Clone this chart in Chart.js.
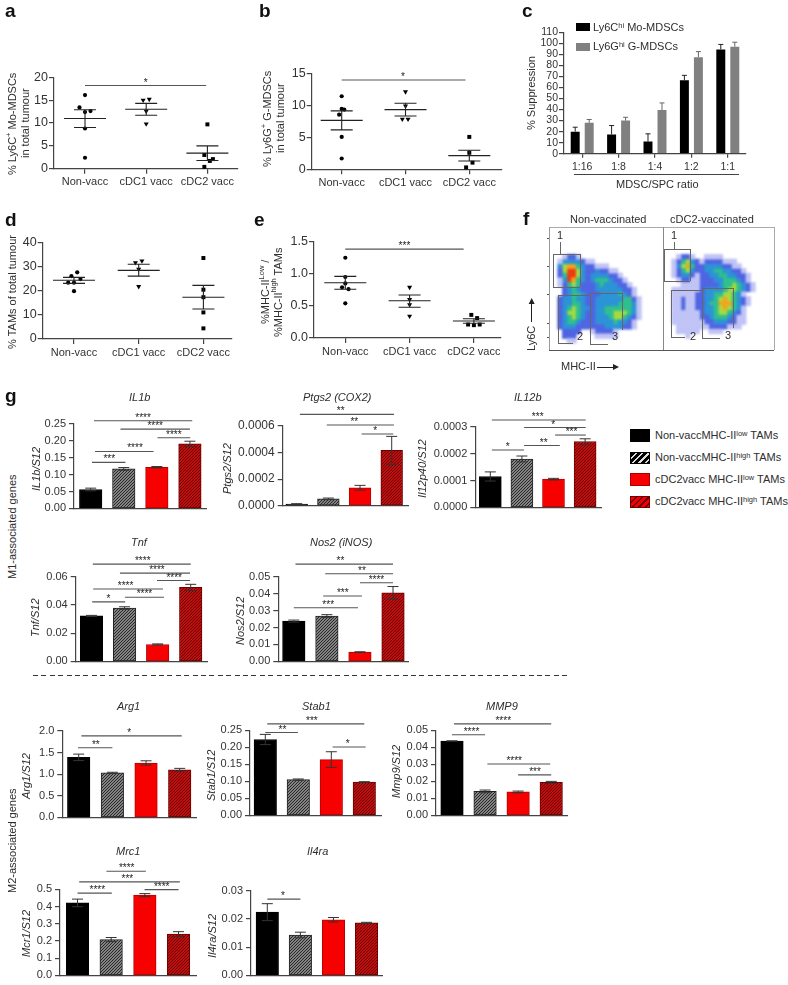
<!DOCTYPE html>
<html><head><meta charset="utf-8">
<script src="https://cdn.jsdelivr.net/npm/chart.js@4"></script>
<style>
html,body{margin:0;padding:0;background:#fff}
#wrap{position:relative;width:788px;height:985px;overflow:hidden;background:#fff;font-family:"Liberation Sans",Arial,sans-serif;color:#2e2e2e}
#wrap canvas{position:absolute;filter:blur(.35px)}
.t{position:absolute;white-space:nowrap;text-align:center;line-height:1.15}
.v{writing-mode:vertical-rl;transform:rotate(180deg)}
sup{font-size:.68em;vertical-align:.45em;line-height:0}
.b{position:absolute}
</style></head><body><div id="wrap"></div>
<script>
/* ---------- DATA ---------- */
const vaccGroups=['Non-vacc','cDC1 vacc','cDC2 vacc'];
const tamGroups=['Non-vaccMHC-II low TAMs','Non-vaccMHC-II high TAMs','cDC2vacc MHC-II low TAMs','cDC2vacc MHC-II high TAMs'];

const aTicks=['0','5','10','15','20'];
const aNonVacc=[16.1,13.4,12.4,12.6,8.8,2.4];
const aCdc1=[15,15.2,12.6,9.8];
const aCdc2=[9.7,3,1.7,2.1,0.4];
const aMean=[11,13,3.4], aSemLow=[9,11.7,1.8], aSemHigh=[12.9,14.3,5];
const aSig=[[0,1.98,18.2,'*',0.99]];

const bTicks=['0','5','10','15'];
const bNonVacc=[11.5,9.5,9.4,8.6,5.1,1.7];
const bCdc1=[12.2,9.96,7.9,7.9];
const bCdc2=[5.1,2.6,1.05,0.3];
const bMean=[7.7,9.4,2.15], bSemLow=[6.2,8.4,1.3], bSemHigh=[9.2,10.4,3];
const bSig=[[0,1.94,14.05,'*',0.96]];

const dTicks=['0','10','20','30','40'];
const dNonVacc=[27.6,26,24.8,23.3,23.3,19.8];
const dCdc1=[31.6,32.3,28.9,21.7];
const dCdc2=[33.5,20.4,17.3,11,4.4];
const dMean=[24.3,28.4,17.3], dSemLow=[23,26,12.4], dSemHigh=[25.5,30.9,22.2];

const eTicks=['0.0','0.5','1.0','1.5'];
const eNonVacc=[1.25,0.95,0.85,0.79,0.76,0.54];
const eCdc1=[0.79,0.6,0.52,0.34];
const eCdc2=[0.36,0.31,0.21,0.2,0.21];
const eMean=[0.86,0.58,0.265], eSemLow=[0.76,0.48,0.23], eSemHigh=[0.96,0.67,0.3];
const eSig=[[0,1.84,1.385,'***',0.92]];

const cRatios=['1:16','1:8','1:4','1:2','1:1'];
const cTicks=['0','10','20','30','40','50','60','70','80','90','100','110'];
const cMo=[20,17.5,11,66.5,94.5], cMoErr=[4,8,7,4.5,4.5];
const cG=[28,30,39.5,87.5,97], cGErr=[3,3,6.5,5,4];

const il1bTicks=['0.00','0.05','0.10','0.15','0.20','0.25'];
const il1bValues=[0.056,0.117,0.122,0.191], il1bErr=[0.004,0.004,0.002,0.008];
const il1bSig=[[0.1,3.07,0.2595,'****'],[0.9,3,0.2348,'****'],[2.02,3.01,0.2093,'****'],[0.13,1.9,0.1686,'****',1.34],[0.04,1.05,0.1364,'***',0.56]];

const ptgs2Ticks=['0.0000','0.0002','0.0004','0.0006'];
const ptgs2Values=[0.000013,0.000052,0.000135,0.000415], ptgs2Err=[0.000003,0.000006,0.000018,0.000105];
const ptgs2Sig=[[0.1,3.07,0.000685,'**',1.39],[0.95,3.07,0.000605,'**',1.82],[2.05,3.05,0.000538,'*',2.48]];

const il12bTicks=['0.0000','0.0001','0.0002','0.0003'];
const il12bValues=[0.000115,0.00018,0.000105,0.000245], il12bErr=[0.000017,0.000011,0.000003,0.00001];
const il12bSig=[[0.05,3.02,0.000325,'***',1.5],[1.07,3.02,0.000297,'*',1.99],[2.05,3.02,0.000269,'***',2.57],[1.07,2.2,0.00023,'**',1.69],[0.05,1.07,0.0002135,'*',0.55]];

const tnfTicks=['0.00','0.02','0.04','0.06'];
const tnfValues=[0.0322,0.0378,0.012,0.0524], tnfErr=[0.0004,0.0009,0.0004,0.0022];
const tnfSig=[[0.04,3,0.0689,'****',1.55],[0.86,2.98,0.0625,'****',1.98],[1.98,2.98,0.0573,'****',2.5],[0.05,2.16,0.0513,'****',1.03],[1.01,2.19,0.0454,'****',1.6],[0.02,1.02,0.0422,'*',0.51]];

const nos2Ticks=['0.00','0.01','0.02','0.03','0.04','0.05'];
const nos2Values=[0.0238,0.0268,0.0055,0.0405], nos2Err=[0.0006,0.0008,0.0002,0.0037];
const nos2Sig=[[0.05,3,0.0574,'**',1.41],[0.95,3,0.0517,'**',2.06],[2,3,0.0464,'****',2.5],[0.89,2.06,0.0386,'***',1.48],[0,1.94,0.0317,'***',1.04]];

const arg1Ticks=['0.0','0.5','1.0','1.5','2.0'];
const arg1Values=[1.39,1.03,1.26,1.1], arg1Err=[0.075,0.015,0.05,0.035];
const arg1Sig=[[0.08,3.06,1.888,'*',1.5],[-0.02,1,1.613,'**',0.51]];

const stab1Ticks=['0.00','0.05','0.10','0.15','0.20','0.25'];
const stab1Values=[0.223,0.105,0.164,0.098], stab1Err=[0.015,0.002,0.023,0.001];
const stab1Sig=[[0.06,3,0.269,'***',1.41],[0,0.99,0.2434,'**',0.52],[2.04,3.04,0.201,'*',2.5]];

const mmp9Ticks=['0.00','0.01','0.02','0.03','0.04','0.05'];
const mmp9Values=[0.0437,0.0141,0.0138,0.0194], mmp9Err=[0.0001,0.0008,0.0005,0.0006];
const mmp9Sig=[[0.06,3,0.0538,'****',1.55],[0,1,0.0474,'****',0.59],[1.07,2.97,0.0302,'****',1.88],[2,3,0.0238,'***',2.51]];

const mrc1Ticks=['0.0','0.1','0.2','0.3','0.4','0.5'];
const mrc1Values=[0.421,0.208,0.466,0.24], mrc1Err=[0.022,0.012,0.009,0.014];
const mrc1Sig=[[0.86,2.03,0.605,'****',1.46],[0.05,3.04,0.543,'***',1.48],[0,1.02,0.478,'****',0.59],[1.99,3,0.498,'****',2.5]];

const il4raTicks=['0.00','0.01','0.02','0.03'];
const il4raValues=[0.0224,0.0143,0.0197,0.0186], il4raErr=[0.003,0.001,0.0008,0.0002];
const il4raSig=[[0,1,0.027,'*',0.47]];

/* flow plots: density level per cell, read by eye (0 empty ... 7 peak) */
const nonVaccDensity=["","","","","",
"00122100000000000000000","01333321100000000000000","03566432211100000000000","02577532232211000000000",
"02477532333322100000000","01376432344432210000000","01245422234333221000000","00234322233333322100000",
"00234432223333432100000","02334332233333344210000","02334432233333444310000","02345433233444444310000",
"02355432233445554310000","02345432233345543210000","02344322233334332100000","02333222222333322100000",
"00222200122221000000000","00222000011111000000000","00011000000000000000000"];
const cdc2Density=["","","","","",
"00122100111100000000000","01245321222211100000000","01356422333322110000000","01245322334433221000000",
"01233212233443322100000","00122112223344432100000","00011112222344543210000","01111112333345543210000",
"01111122334455431000000","01121122334565432100000","01121122344666432100000","01121122334565431000000",
"01111112334554321000000","01111112234443211000000","01111111223332211000000","00111111122221110000000",
"00111110011100000000000","00001000000000000000000"];

/* ---------- STYLE / HELPERS ---------- */
const wrap=document.getElementById('wrap');
const INK='#333', AX='#444', FONT='"Liberation Sans",Arial,sans-serif';
function label(x,y,html,o={}){
  const d=document.createElement('div');d.className='t'+(o.rot?' v':'');d.innerHTML=html;
  d.style.fontSize=(o.size||11)+'px';
  if(o.italic)d.style.fontStyle='italic';
  if(o.bold)d.style.fontWeight='bold';
  if(o.color)d.style.color=o.color;
  wrap.appendChild(d);
  const r=d.getBoundingClientRect();
  const w=Math.ceil(r.width),h=Math.ceil(r.height);
  if(o.rot){d.style.width=w+'px';d.style.height=h+'px';if(!html.includes('<br>'))d.style.textAlign='left';}
  d.style.left=Math.round(o.left?x:x-w/2)+'px';
  d.style.top=Math.round(y-h/2)+'px';
  return d;
}
function box(x,y,w,h,bg){
  const d=document.createElement('div');d.className='b';
  d.style.cssText+=`left:${x}px;top:${y}px;width:${w}px;height:${h}px;background:${bg}`;
  wrap.appendChild(d);return d;
}
function hatch(bg,fg,size,lw){
  const c=document.createElement('canvas');c.width=c.height=size;
  const g=c.getContext('2d');g.fillStyle=bg;g.fillRect(0,0,size,size);
  g.strokeStyle=fg;g.lineWidth=lw;
  [[-size,size,size,-size],[0,size,size,0],[0,2*size,2*size,0]].forEach(p=>{g.beginPath();g.moveTo(p[0],p[1]);g.lineTo(p[2],p[3]);g.stroke();});
  return g.createPattern(c,'repeat');
}
const barFills=['#000',hatch('#aaa','#222',3,1.1),'#f60000',hatch('#e01515','#6a0000',3,1.1)];
const barEdges=['#000','#222','#b80000','#700000'];

function frame(L,R,yTop,y0,bottomH,leftH=52,topH=46){
  const left=Math.floor(L-leftH), top=Math.floor(yTop-topH);
  const right=Math.ceil(R+10), bottom=Math.ceil(y0+bottomH);
  const c=document.createElement('canvas');
  c.width=right-left;c.height=bottom-top;
  c.style.left=left+'px';c.style.top=top+'px';
  wrap.appendChild(c);
  return {c,padL:L-left,padT:yTop-top,padR:right-R,padB:bottom-y0};
}
function yAxis(f,ticks,fontSize,pad){
  const vals=ticks.map(Number);
  return {min:vals[0],max:vals[vals.length-1],position:'left',
    afterFit:s=>{s.width=f.padL;},
    afterBuildTicks:s=>{s.ticks=vals.map(v=>({value:v}));},
    border:{color:AX,width:1.2},
    grid:{drawOnChartArea:false,color:AX,lineWidth:1.2,tickLength:5},
    ticks:{color:INK,padding:pad,font:{family:FONT,size:fontSize},autoSkip:false,
      callback:(v,i)=>ticks[i]}};
}
function sigPlugin(rows){
  return {id:'sig',afterDatasetsDraw(ch){
    const g=ch.ctx,x=ch.scales.x,y=ch.scales.y;
    g.save();g.strokeStyle='#555';g.lineWidth=1.1;g.fillStyle='#222';
    g.textAlign='center';g.textBaseline='alphabetic';g.font='10px '+FONT;
    rows.forEach(r=>{
      const x1=x.getPixelForValue(r[0]),x2=x.getPixelForValue(r[1]),py=y.getPixelForValue(r[2]);
      g.beginPath();g.moveTo(x1,py);g.lineTo(x2,py);g.stroke();
      const sx=r[4]===undefined?(x1+x2)/2:x.getPixelForValue(r[4]);
      g.fillText(r[3],sx,py);
    });
    g.restore();}};
}
function errPlugin(series){
  return {id:'err',afterDatasetsDraw(ch){
    const g=ch.ctx,y=ch.scales.y;
    g.save();g.lineWidth=1;
    series.forEach(s=>{
      ch.getDatasetMeta(s.ds).data.forEach((el,i)=>{
        const v=s.values[i],e=s.err[i],hi=y.getPixelForValue(v+e),lo=y.getPixelForValue(s.up?v:v-e);
        g.strokeStyle=s.color||'#333';
        g.beginPath();g.moveTo(el.x,lo);g.lineTo(el.x,hi);
        g.moveTo(el.x-s.cap,hi);g.lineTo(el.x+s.cap,hi);
        if(!s.up){g.moveTo(el.x-s.cap,lo);g.lineTo(el.x+s.cap,lo);}
        g.stroke();
      });
    });
    g.restore();}};
}
function baseOptions(f){
  return {responsive:false,animation:false,events:[],
    layout:{padding:{left:0,top:f.padT,right:f.padR,bottom:0}},
    plugins:{legend:{display:false},tooltip:{enabled:false}}};
}

/* gene-expression bar panel: x units are bar indices */
function barPanel(p){
  const f=frame(p.L,p.R,p.yTop,p.y0,6);
  const o=baseOptions(f);
  o.scales={
    x:{type:'linear',offset:false,min:(p.L-p.cx0)/p.dx,max:(p.R-p.cx0)/p.dx,
       afterFit:s=>{s.height=f.padB;},border:{color:AX,width:1.2},
       grid:{display:false,offset:false},ticks:{display:false}},
    y:yAxis(f,p.ticks,p.fs||11,3)};
  new Chart(f.c,{type:'bar',
    data:{labels:tamGroups,datasets:[{label:p.name,
      data:p.values.map((v,i)=>({x:i,y:v})),
      backgroundColor:barFills,borderColor:barEdges,borderWidth:1,borderSkipped:false,
      barThickness:p.w||22.5}]},
    options:o,
    plugins:[errPlugin([{ds:0,values:p.values,err:p.err,cap:5.5}]),sigPlugin(p.sig)]});
}

/* dot-plot panel: x units are group indices, jitter is a small horizontal spread */
function dotPanel(p){
  const f=frame(p.L,p.R,p.yTop,p.y0,24);
  const o=baseOptions(f);
  o.scales={
    x:{type:'linear',min:(p.L-p.cx0)/p.dx,max:(p.R-p.cx0)/p.dx,
       afterFit:s=>{s.height=f.padB;},
       afterBuildTicks:s=>{s.ticks=vaccGroups.map((_,i)=>({value:i}));},
       border:{color:AX,width:1.2},
       grid:{drawOnChartArea:false,color:AX,lineWidth:1.2,tickLength:5},
       ticks:{color:INK,padding:2,maxRotation:0,autoSkip:false,font:{family:FONT,size:11},callback:(v,i)=>vaccGroups[i]}},
    y:yAxis(f,p.ticks,12.5,1)};
  const styles=[['circle',2.1,0],['triangle',2.9,180],['rect',2.8,0]];
  const mk=(vals,g)=>({label:vaccGroups[g],
    data:vals.map((v,i)=>({x:g+p.jitter[g][i],y:v})),
    showLine:false,clip:false,backgroundColor:'#000',borderWidth:0,
    pointStyle:styles[g][0],pointRadius:styles[g][1],pointRotation:styles[g][2]});
  new Chart(f.c,{type:'scatter',
    data:{datasets:p.groups.map(mk)},options:o,
    plugins:[{id:'mean',afterDatasetsDraw(ch){
      const g=ch.ctx,x=ch.scales.x,y=ch.scales.y;
      g.save();g.strokeStyle='#222';g.lineWidth=1.1;
      p.mean.forEach((m,i)=>{
        const cx=x.getPixelForValue(i),my=y.getPixelForValue(m),lo=y.getPixelForValue(p.low[i]),hi=y.getPixelForValue(p.high[i]);
        g.beginPath();
        g.moveTo(cx-21,my);g.lineTo(cx+21,my);
        g.moveTo(cx,lo);g.lineTo(cx,hi);
        g.moveTo(cx-11,lo);g.lineTo(cx+11,lo);
        g.moveTo(cx-11,hi);g.lineTo(cx+11,hi);
        g.stroke();
      });
      g.restore();}},sigPlugin(p.sig||[])]});
}

/* ---------- PANELS a,b,d,e ---------- */
dotPanel({L:54,R:238,yTop:77.3,y0:168.7,cx0:85,dx:61.2,ticks:aTicks,groups:[aNonVacc,aCdc1,aCdc2],
  jitter:[[0,-.09,0,.09,0,0],[-.05,.05,0,0],[0,-.05,.04,.09,-.05]],mean:aMean,low:aSemLow,high:aSemHigh,sig:aSig});
dotPanel({L:311.7,R:501.7,yTop:74,y0:169.3,cx0:341.7,dx:63.8,ticks:bTicks,groups:[bNonVacc,bCdc1,bCdc2],
  jitter:[[0,0,.04,-.04,0,0],[0,0,-.05,.04],[0,0,.05,-.05]],mean:bMean,low:bSemLow,high:bSemHigh,sig:bSig});
dotPanel({L:42.7,R:231.7,yTop:242.3,y0:339,cx0:74,dx:64.7,ticks:dTicks,groups:[dNonVacc,dCdc1,dCdc2],
  jitter:[[.05,-.04,.1,-.09,0,0],[-.05,.05,0,0],[0,0,0,0,0]],mean:dMean,low:dSemLow,high:dSemHigh});
dotPanel({L:314,R:500.3,yTop:241.7,y0:338,cx0:345.3,dx:64.3,ticks:eTicks,groups:[eNonVacc,eCdc1,eCdc2],
  jitter:[[0,0,0,-.05,.05,0],[0,0,0,0],[-.04,.05,-.09,0,.09]],mean:eMean,low:eSemLow,high:eSemHigh,sig:eSig});

/* ---------- PANEL c ---------- */
(function(){
  const L=564,R=746,yTop=32.3,y0=153.7;
  const f=frame(L,R,yTop,y0,20,52,20);
  const o=baseOptions(f);
  o.scales={
    x:{type:'category',afterFit:s=>{s.height=f.padB;},border:{color:AX,width:1.2},
       grid:{drawOnChartArea:false,color:AX,lineWidth:1.2,tickLength:4,offset:false},
       ticks:{color:INK,padding:3,font:{family:FONT,size:10.5},maxRotation:0,autoSkip:false}},
    y:yAxis(f,cTicks,10.5,1)};
  new Chart(f.c,{type:'bar',
    data:{labels:cRatios,datasets:[
      {label:'Ly6C hi Mo-MDSCs',data:cMo,backgroundColor:'#000',categoryPercentage:.77,barPercentage:.64},
      {label:'Ly6G hi G-MDSCs',data:cG,backgroundColor:'#808080',categoryPercentage:.77,barPercentage:.64}]},
    options:o,
    plugins:[errPlugin([{ds:0,values:cMo,err:cMoErr,cap:2.5,up:true,color:'#222'},{ds:1,values:cG,err:cGErr,cap:2.5,up:true,color:'#666'}])]});
})();
box(576,23,14,8,'#000');box(576,42.5,14,8,'#808080');
label(593,27,'Ly6C<sup>hi</sup> Mo-MDSCs',{left:1,size:11});
label(593,46.5,'Ly6G<sup>hi</sup> G-MDSCs',{left:1,size:11});
box(574,174,165,1,'#444');
label(657,184,'MDSC/SPC ratio');
label(531.7,92.7,'% Suppression',{rot:1});

/* ---------- PANEL g ---------- */
barPanel({name:'IL1b',L:74,R:206,yTop:424,y0:512,cx0:90.7,dx:33.07,ticks:il1bTicks,values:il1bValues,err:il1bErr,sig:il1bSig});
barPanel({name:'Ptgs2',L:282.7,R:408,yTop:425.7,y0:510,cx0:296.7,dx:31.67,w:21.7,fs:12,ticks:ptgs2Ticks,values:ptgs2Values,err:ptgs2Err,sig:ptgs2Sig});
barPanel({name:'IL12b',L:475.3,R:601,yTop:426.7,y0:511,cx0:490.3,dx:31.6,w:22,ticks:il12bTicks,values:il12bValues,err:il12bErr,sig:il12bSig});
barPanel({name:'Tnf',L:75.7,R:207.3,yTop:576.7,y0:664.3,cx0:91.5,dx:33.07,ticks:tnfTicks,values:tnfValues,err:tnfErr,sig:tnfSig});
barPanel({name:'Nos2',L:278.3,R:408,yTop:576.7,y0:664.3,cx0:293.8,dx:33.07,ticks:nos2Ticks,values:nos2Values,err:nos2Err,sig:nos2Sig});
barPanel({name:'Arg1',L:62.3,R:196,yTop:731,y0:820.7,cx0:78.7,dx:33.67,ticks:arg1Ticks,values:arg1Values,err:arg1Err,sig:arg1Sig});
barPanel({name:'Stab1',L:250,R:381,yTop:730.3,y0:818.7,cx0:265.3,dx:33,ticks:stab1Ticks,values:stab1Values,err:stab1Err,sig:stab1Sig});
barPanel({name:'MMP9',L:436,R:567.7,yTop:730.3,y0:818.7,cx0:452,dx:33.07,ticks:mmp9Ticks,values:mmp9Values,err:mmp9Err,sig:mmp9Sig});
barPanel({name:'Mrc1',L:60,R:196,yTop:889.3,y0:978.3,cx0:77.5,dx:33.67,ticks:mrc1Ticks,values:mrc1Values,err:mrc1Err,sig:mrc1Sig});
barPanel({name:'Il4ra',L:251,R:382.7,yTop:890.7,y0:978.3,cx0:267.3,dx:33.07,ticks:il4raTicks,values:il4raValues,err:il4raErr,sig:il4raSig});

[['IL1b',140,397.7],['Ptgs2 (COX2)',337,397.7],['IL12b',528,397.7],['Tnf',139,542.7],['Nos2 (iNOS)',341.7,542.7],
 ['Arg1',129,706.7],['Stab1',316,706.7],['MMP9',501.7,706],['Mrc1',128.7,851.7],['Il4ra',317.7,851.7]]
 .forEach(r=>label(r[1],r[2],r[0],{italic:1}));
[['IL1b/S12',36,468],['Ptgs2/S12',227.7,468],['Il12p40/S12',422.7,468],['Tnf/S12',35.7,617],['Nos2/S12',240.7,620],
 ['Arg1/S12',26.7,776],['Stab1/S12',211.7,775],['Mmp9/S12',396.7,771],['Mcr1/S12',26.7,933],['Il4ra/S12',212.7,935]]
 .forEach(r=>label(r[1],r[2],r[0],{italic:1,rot:1}));
label(12,526,'M1-associated genes',{rot:1});
label(12,840,'M2-associated genes',{rot:1});
box(33,675,535,1.3,'repeating-linear-gradient(90deg,#333 0 5px,transparent 5px 8.4px)');

/* g legend */
const legendSwatch=['#000','repeating-linear-gradient(135deg,#000 0 3px,#ddd 3px 4.5px)','#f60000','repeating-linear-gradient(135deg,#f00000 0 3px,#700000 3px 4.5px)'];
const legendEdge=['#000','#000','#a00','#700000'];
[['Non-vaccMHC-II<sup>low</sup> TAMs',429],['Non-vaccMHC-II<sup>high</sup> TAMs',451.5],['cDC2vacc MHC-II<sup>low</sup> TAMs',473],['cDC2vacc MHC-II<sup>high</sup> TAMs',495.7]]
 .forEach((r,i)=>{
  const b=box(630.3,r[1],18,10.5,legendSwatch[i]);b.style.border='1px solid '+legendEdge[i];
  label(654.7,r[1]+6,r[0],{left:1});
 });

/* ---------- axis titles and panel letters ---------- */
label(18.5,123,'% Ly6C<sup>+</sup> Mo-MDSCs<br>in total tumour',{rot:1});
label(274,118,'% Ly6G<sup>+</sup> G-MDSCs<br>in total tumour',{rot:1});
label(12.7,291.7,'% TAMs of total tumour',{rot:1});
label(271.7,291.7,'%MHC-II<sup>Low</sup> /<br>%MHC-II<sup>high</sup> TAMs',{rot:1});
[['a',10.5,11],['b',265,11],['c',527.7,11],['d',10.5,220],['e',259,220],['f',526.7,219],['g',10.5,396]]
 .forEach(r=>label(r[1],r[2],r[0],{bold:1,size:19,color:'#111'}));

/* ---------- PANEL f ---------- */
const densityColors=['','#c0c3f5','#4f64e2','#2b93d6','#2fbf8c','#a6da3f','#f2a41e','#f03a10'];
function flow(x,y,w,h,rows){
  const c=document.createElement('canvas');c.width=w;c.height=h;
  c.style.left=x+'px';c.style.top=y+'px';c.style.filter='blur(1.2px)';
  wrap.appendChild(c);
  const datasets=[];
  for(let lv=1;lv<=7;lv++){
    const pts=[];
    rows.forEach((r,ry)=>{[...r].forEach((ch,cx)=>{if(+ch===lv)pts.push({x:cx+.5,y:ry+.5});});});
    datasets.push({label:'density '+lv,data:pts,backgroundColor:densityColors[lv],borderWidth:0,pointStyle:'rect',pointRadius:3.75});
  }
  new Chart(c,{type:'scatter',data:{datasets},options:{responsive:false,animation:false,events:[],
    layout:{padding:0},plugins:{legend:{display:false},tooltip:{enabled:false}},
    scales:{x:{type:'linear',display:false,min:0,max:w/5},y:{type:'linear',display:false,reverse:true,min:0,max:h/5}}}});
}
flow(549,227,114,123,nonVaccDensity);
flow(663,227,114,123,cdc2Density);
function frameLine(x,y,w,h,col){box(x,y,w,h,col||'#666');}
frameLine(549,227,225.3,1,'#aaa');frameLine(549,227,1,123,'#999');frameLine(663,227,1.3,123,'#888');frameLine(774,227,1,123,'#aaa');frameLine(549,350,225.3,1,'#555');
[238,266,294,323,337].forEach(v=>frameLine(547,v,2,1,'#555'));
function gate(parts){parts.forEach(p=>frameLine(p[0],p[1],p[2],p[3],'#666'));}
gate([[553.3,254.3,26.4,1],[553.3,286.7,26.4,1],[553.3,254.3,1,32.4],[579.7,254.3,1,32.4],[560.3,241.7,1,12.6],
 [558.3,295,31.7,1],[558.3,295,1,47.7],[558.3,342.7,15,1],
 [590,293.3,31.7,1],[590,293.3,1,50.7],[590,344,18.3,1],[621.7,293.3,1,36.7],
 [664,249,26.3,1],[664,281,26.3,1],[664,249,1,32],[690.3,249,1,32],[674,241.7,1,7.3],
 [670.7,289.7,31,1],[670.7,289.7,1,47.6],[670.7,337.3,14.3,1],
 [701.7,288.3,31.6,1],[701.7,288.3,1,50],[701.7,338.3,18.3,1],[733.3,288.3,1,40]]);
[['1',560.3,235],['2',580.3,336.7],['3',615,336.7],['1',674,235],['2',693,336.7],['3',728.3,335.7]]
 .forEach(r=>label(r[1],r[2],r[0]));
label(608.3,219.3,'Non-vaccinated');
label(712,219.3,'cDC2-vaccinated');
label(531.7,338,'Ly6C',{rot:1});
label(578.3,366.7,'MHC-II');
frameLine(531.2,302,1,20,'#222');frameLine(597,366.5,18,1,'#222');
wrap.insertAdjacentHTML('beforeend','<svg style="position:absolute;left:0;top:0" width="788" height="985"><polygon points="531.7,298 528.7,304 534.7,304" fill="#222"/><polygon points="619,367 613,364 613,370" fill="#222"/></svg>');
</script></body></html>
